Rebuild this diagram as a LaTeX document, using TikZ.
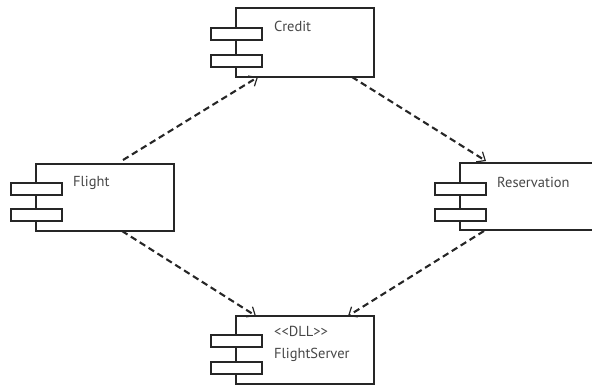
\documentclass[tikz,border=0pt]{standalone}
\usepackage{fontspec}
\setmainfont{PT Sans}
\usetikzlibrary{arrows.meta}
\begin{document}
\begin{tikzpicture}[x=1pt,y=-1pt,
  comp/.style={draw=black!85,line width=1.7pt,fill=white,anchor=north west,inner sep=0pt},
  tab/.style={draw=black!85,line width=1.7pt,fill=white,anchor=north west,inner sep=0pt,minimum width=51pt,minimum height=12pt},
  lbl/.style={anchor=base west,inner sep=0pt,text=black!72,font=\fontsize{14.5}{17}\selectfont},
  dep/.style={draw=black!85,line width=2.1pt,dash pattern=on 6.5pt off 4pt,-{Straight Barb[length=7pt,width=12pt,line width=1.2pt]}}
]
\useasboundingbox (0,0) rectangle (592,388);
\clip (0,0) rectangle (592,388);
% Credit
\node[comp,minimum width=138pt,minimum height=69pt] (credit) at (235,7) {};
\node[tab] (creditA) at (210,27) {};
\node[tab] (creditB) at (210,54) {};
\node[lbl] (creditL) at (274,31.5) {Credit};
% Flight
\node[comp,minimum width=138pt,minimum height=67pt] (flight) at (35,163) {};
\node[tab] (flightA) at (10,182) {};
\node[tab] (flightB) at (10,208) {};
\node[lbl] (flightL) at (73,186.5) {Flight};
% Reservation
\node[comp,minimum width=150pt,minimum height=67pt] (resv) at (459,162) {};
\node[tab] (resvA) at (434,182) {};
\node[tab] (resvB) at (434,208) {};
\node[lbl] (resvL) at (497,187.5) {Reservation};
% FlightServer
\node[comp,minimum width=138pt,minimum height=68pt] (fserv) at (235,315) {};
\node[tab] (fservA) at (210,334) {};
\node[tab] (fservB) at (210,361) {};
\node[lbl] (fservL1) at (274,336.5) {<{}<DLL>{}>};
\node[lbl] (fservL2) at (274,358.5) {FlightServer};
% connector end points
\coordinate (f1) at (123,160);
\coordinate (c1) at (258,77);
\coordinate (c2) at (352,77);
\coordinate (r1) at (486,161);
\coordinate (f2) at (122,231);
\coordinate (s1) at (256,316);
\coordinate (r2) at (484,231);
\coordinate (s2) at (348,316);
\draw[dep] (f1) -- (c1);
\draw[dep] (c2) -- (r1);
\draw[dep] (f2) -- (s1);
\draw[dep] (r2) -- (s2);
\end{tikzpicture}
\end{document}
